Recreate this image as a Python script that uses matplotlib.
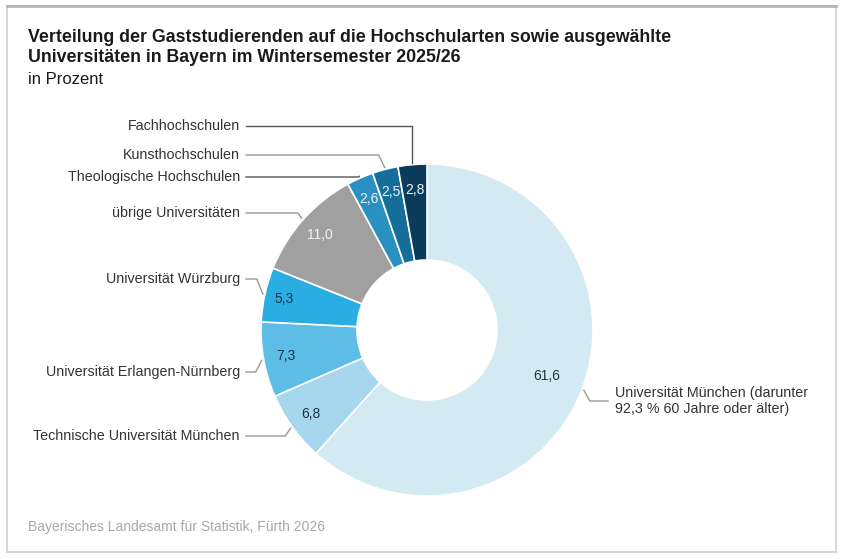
import numpy as np
import matplotlib
matplotlib.use('Agg')
import matplotlib.pyplot as plt
from matplotlib.patches import Rectangle

plt.rcParams['font.family'] = ['Liberation Sans', 'DejaVu Sans']

# data, clockwise from 12 o'clock
labels = ['Universität München (darunter\n92,3 % 60 Jahre oder älter)',
          'Technische Universität München',
          'Universität Erlangen-Nürnberg',
          'Universität Würzburg',
          'übrige Universitäten',
          'Theologische Hochschulen',
          'Kunsthochschulen',
          'Fachhochschulen']
values = [61.6, 6.8, 7.3, 5.3, 11.0, 2.6, 2.5, 2.8]
colors = ['#d4eaf3', '#a7d7ee', '#5dbde7', '#29ade2', '#a0a0a0',
          '#2a90c2', '#156d9a', '#0b3c5b']
text_colors = ['#1e3444', '#1e3444', '#1e3444', '#1e3444',
               '#f2f2f2', '#e8f2f8', '#e8f2f8', '#e8f2f8']

W, H = 841, 559
fig = plt.figure(figsize=(W / 100, H / 100), dpi=100)
ax = fig.add_axes([0, 0, 1, 1])

def py(y):
    # pixel row from top -> axes y
    return H - y

# frame
ax.add_patch(Rectangle((7, py(552)), 829, 546, fill=False, ec='#cfcfcf', lw=1.2))
ax.plot([7, 836], [py(6), py(6)], color='#b5b5b5', lw=2)

cx, cy = 427, py(330)
r_out, r_in = 166, 70
wedges, _ = ax.pie(values, colors=colors, startangle=90, counterclock=False,
                   radius=r_out, center=(cx, cy), frame=True,
                   wedgeprops=dict(width=r_out - r_in, edgecolor='white', linewidth=1.2))
ax.set_xlim(0, W)
ax.set_ylim(0, H)
ax.set_aspect('equal')
ax.axis('off')

label_y = [401, 436, 372, 279, 213, 177, 155, 126]
val_r = [128, 143, 143, 146, 143, 143, 143, 141]

for i, w in enumerate(wedges):
    mid = np.deg2rad((w.theta1 + w.theta2) / 2)
    tx = cx + val_r[i] * np.cos(mid)
    ty = cy + val_r[i] * np.sin(mid)
    ax.text(tx, ty, f'{values[i]:.1f}'.replace('.', ','), ha='center', va='center',
            fontsize=10, color=text_colors[i])

    # leader line
    ax_x = cx + 168 * np.cos(mid)
    ax_y = cy + 168 * np.sin(mid)
    ly = py(label_y[i])
    dy = abs(ax_y - ly)
    if i == 0:
        ex = ax_x + min(6, dy * 0.7)
        xs, ys = [ax_x, ex, 608], [ax_y, ly, ly]
        ax.text(615, ly, labels[i], ha='left', va='center', fontsize=10.3,
                color='#333333', linespacing=1.2)
    else:
        ex = ax_x - (0 if i == 7 else min(6, dy * 0.7))
        xs, ys = [ax_x, ex, 246], [ax_y, ly, ly]
        ax.text(240, ly, labels[i], ha='right', va='center', fontsize=10.3,
                color='#333333')
    lc = '#555555' if i in (5, 7) else '#999999'
    ax.plot(xs, ys, color=lc, lw=1)

# titles
ax.text(28, py(37), 'Verteilung der Gaststudierenden auf die Hochschularten sowie ausgewählte',
        fontsize=12.8, fontweight='bold', color='#1a1a1a', va='center')
ax.text(28, py(58), 'Universitäten in Bayern im Wintersemester 2025/26',
        fontsize=12.8, fontweight='bold', color='#1a1a1a', va='center')
ax.text(28, py(79), 'in Prozent', fontsize=12, color='#1a1a1a', va='center')

ax.text(28, py(527), 'Bayerisches Landesamt für Statistik, Fürth 2026',
        fontsize=10, color='#a8a8a8', va='center')

fig.savefig('out.png', dpi=100)
